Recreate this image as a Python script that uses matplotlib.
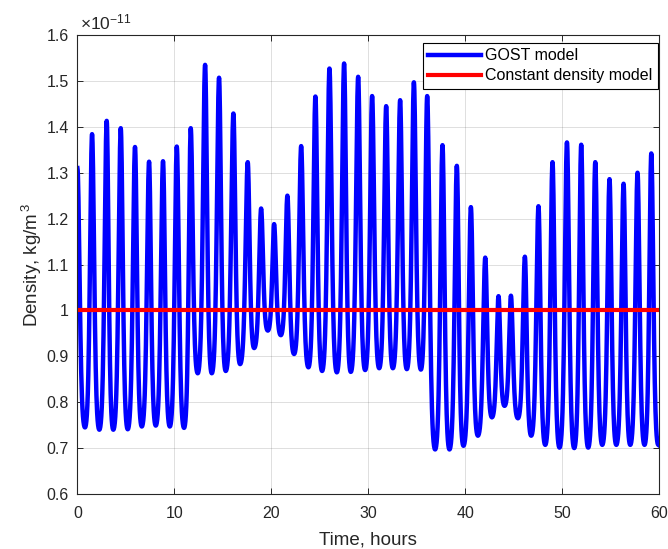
import numpy as np
import matplotlib.pyplot as plt
from matplotlib.ticker import FuncFormatter

plt.rcParams['font.family'] = ['Liberation Sans', 'DejaVu Sans']
plt.rcParams['mathtext.fontset'] = 'custom'
plt.rcParams['mathtext.rm'] = 'Liberation Sans'
plt.rcParams['mathtext.it'] = 'Liberation Sans:italic'
plt.rcParams['mathtext.default'] = 'regular'

# density maxima / minima (units of 1e-11 kg/m^3, time in hours)
peak_time = [0.0, 1.51, 3.02, 4.47, 5.94, 7.39, 8.83, 10.25, 11.69, 13.17,
             14.61, 16.09, 17.57, 18.95, 20.29, 21.66, 23.08, 24.55, 26.0, 27.51,
             28.96, 30.4, 31.85, 33.29, 34.71, 36.08, 37.66, 39.14, 40.59, 42.07,
             43.44, 44.72, 46.16, 47.56, 49.01, 50.5, 51.97, 53.42, 54.89, 56.34,
             57.78, 59.2]
peak_val = [1.31, 1.384, 1.413, 1.397, 1.356, 1.324, 1.325, 1.357, 1.397, 1.535,
            1.507, 1.429, 1.323, 1.222, 1.188, 1.250, 1.358, 1.466, 1.527, 1.538,
            1.509, 1.467, 1.445, 1.458, 1.497, 1.467, 1.360, 1.315, 1.225, 1.115,
            1.031, 1.032, 1.117, 1.227, 1.323, 1.366, 1.361, 1.323, 1.286, 1.276,
            1.300, 1.342]
trough_time = [0.78, 2.26, 3.70, 5.19, 6.64, 8.08, 9.53, 11.0, 12.41, 13.86,
               15.30, 16.78, 18.23, 19.64, 20.98, 22.35, 23.83, 25.24, 26.76, 28.2,
               29.68, 31.13, 32.54, 33.98, 35.43, 36.9, 38.38, 39.82, 41.31, 42.76,
               44.06, 45.44, 46.81, 48.26, 49.73, 51.25, 52.69, 54.14, 55.59, 57.03,
               58.5, 59.92]
trough_val = [0.745, 0.740, 0.740, 0.741, 0.747, 0.749, 0.747, 0.744, 0.863, 0.863,
              0.868, 0.883, 0.918, 0.956, 0.946, 0.905, 0.876, 0.868, 0.865, 0.866,
              0.870, 0.874, 0.874, 0.872, 0.871, 0.697, 0.697, 0.705, 0.727, 0.767,
              0.792, 0.765, 0.727, 0.707, 0.701, 0.700, 0.701, 0.707, 0.707, 0.707,
              0.707, 0.707]

const_density = 1.0
time_span = [0, 60]
y_ticks = [0.6, 0.7, 0.8, 0.9, 1.0, 1.1, 1.2, 1.3, 1.4, 1.5, 1.6]
x_ticks = [0, 10, 20, 30, 40, 50, 60]


def orbit_curve(pt, pv, tt, tv, k=1.3, n=30):
    """Join alternating maxima/minima with a sharp-topped orbital wave shape."""
    ext = sorted([(t, v, 1) for t, v in zip(pt, pv)] + [(t, v, 0) for t, v in zip(tt, tv)])
    ts, vs = [], []
    for (t0, v0, p0), (t1, v1, p1) in zip(ext[:-1], ext[1:]):
        s = np.linspace(0, 1, n, endpoint=False)
        u = s if p0 else 1 - s  # distance from the maximum, 0..1
        g = (np.exp(k * np.cos(np.pi * u)) - np.exp(-k)) / (np.exp(k) - np.exp(-k))
        hi, lo = (v0, v1) if p0 else (v1, v0)
        ts.append(t0 + (t1 - t0) * s)
        vs.append(lo + (hi - lo) * g)
    ts.append([ext[-1][0]])
    vs.append([ext[-1][1]])
    return np.concatenate(ts), np.concatenate(vs)


t, rho = orbit_curve(peak_time, peak_val, trough_time, trough_val)

dark = '#262626'
fig = plt.figure(figsize=(6.68, 5.49), dpi=100)
ax = fig.add_axes([0.1159, 0.1002, 0.8707, 0.836])

ax.plot(t, rho, color=(0, 0, 1), lw=3.2, label='GOST model')
ax.plot(time_span, [const_density, const_density], color=(1, 0, 0), lw=3,
        label='Constant density model')

ax.set_xlim(0, 60)
ax.set_ylim(0.6, 1.6)
ax.set_xticks(x_ticks)
ax.set_yticks(y_ticks)
ax.yaxis.set_major_formatter(FuncFormatter(lambda v, p: '%g' % round(v, 2)))
ax.grid(True, color=dark, alpha=0.15, lw=0.7)
ax.set_axisbelow(True)
ax.tick_params(direction='in', top=True, right=True, length=4, width=0.7,
               colors=dark, labelsize=11.5)
ax.tick_params(axis='x', pad=9)
ax.tick_params(axis='y', pad=6)
for sp in ax.spines.values():
    sp.set_color(dark)
    sp.set_linewidth(0.8)

ax.set_xlabel('Time, hours', fontsize=13.5, color=dark, labelpad=7)
ax.set_ylabel('Density, kg/m$^{\\,3}$', fontsize=13.5, color=dark, labelpad=2)
ax.text(0.004, 1.006, '×10$^{-11}$', transform=ax.transAxes, ha='left', va='bottom',
        fontsize=12.5, color=dark)

leg = ax.legend(loc='upper right', bbox_to_anchor=(0.998, 0.983), borderaxespad=0,
                fontsize=11.5, fancybox=False, framealpha=1, edgecolor='black',
                handlelength=3.3, handletextpad=0.25, labelspacing=0.3,
                borderpad=0.35)
leg.get_frame().set_linewidth(0.8)

fig.savefig('out.png', dpi=100)
